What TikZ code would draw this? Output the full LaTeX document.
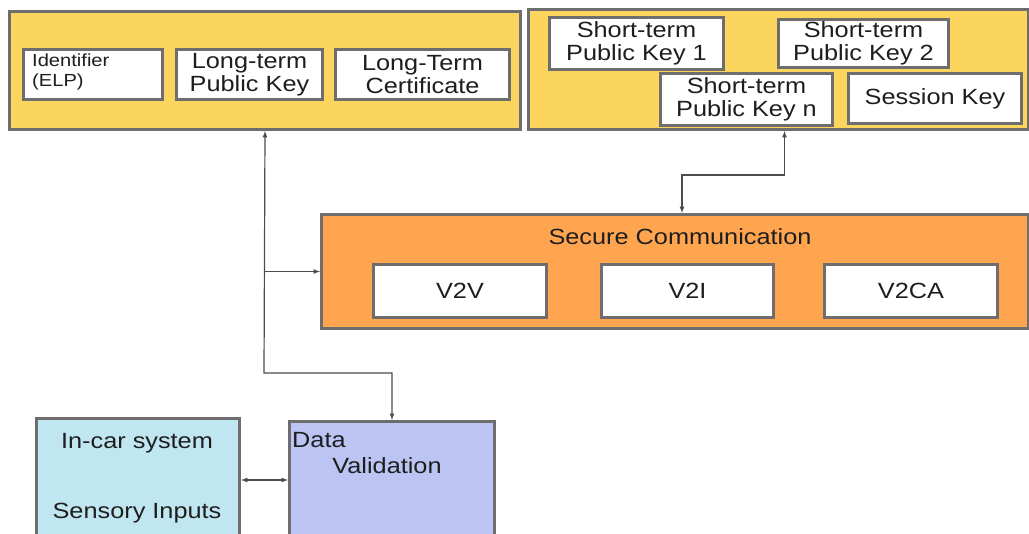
\documentclass[tikz,border=0pt]{standalone}
\usepackage{fontspec}
\setmainfont{Liberation Sans}[FakeStretch=1.15]
\usepackage{tikz}
\usepackage{xcolor}
\usetikzlibrary{arrows}

\definecolor{keyyellow}{HTML}{FCD55E}
\definecolor{comorange}{HTML}{FFA54F}
\definecolor{carcyan}{HTML}{C0E7F1}
\definecolor{vallav}{HTML}{BBC4F2}
\definecolor{rimgray}{HTML}{6E6E6E}
\definecolor{txtgray}{HTML}{1E1E1E}

\tikzset{
  panel/.style={draw=rimgray, line width=3pt, inner sep=0pt, anchor=north west},
  keybox/.style={panel, fill=white, text=txtgray, align=center,
    font=\fontsize{22}{23}\selectfont},
  lbl/.style={text=txtgray, font=\fontsize{22}{23}\selectfont, inner sep=0pt},
  conn/.style={draw=black!70, line width=1.2pt}
}

\begin{document}
\begin{tikzpicture}[x=1pt, y=-1pt]
\useasboundingbox (0,0) rectangle (1029,534);
\clip (0,0) rectangle (1029,534);

% long-term part
\node[panel, fill=keyyellow, minimum width=511pt, minimum height=118pt] (ltbox) at (8,10) {};
\node[keybox, minimum width=139pt, minimum height=50pt] (ident) at (22,48) {};
\node[lbl, anchor=north west, align=left, font=\fontsize{17.5}{20}\selectfont] (identl) at (32,54) {Identifier\\(ELP)};
\node[keybox, minimum width=146pt, minimum height=50pt] (ltpk) at (175,48) {Long-term\\Public Key};
\node[keybox, minimum width=174pt, minimum height=50pt] (ltcert) at (334,48) {Long-Term\\Certificate};

% short-term part
\node[panel, fill=keyyellow, minimum width=500pt, minimum height=120pt] (rtbox) at (527,8) {};
\node[keybox, minimum width=174pt, minimum height=52pt] (stk1) at (548,16) {Short-term\\Public Key 1};
\node[keybox, minimum width=170pt, minimum height=48pt] (stk2) at (777,18) {Short-term\\Public Key 2};
\node[keybox, minimum width=172pt, minimum height=52pt] (stkn) at (659,72) {Short-term\\Public Key n};
\node[keybox, minimum width=173pt, minimum height=50pt] (sess) at (847,72) {Session Key};

% secure communication
\node[panel, fill=comorange, minimum width=707pt, minimum height=114pt] (sc) at (320,213) {};
\node[lbl] (sctitle) at (680,237) {Secure Communication};
\node[keybox, minimum width=173pt, minimum height=53pt] (v2v) at (372,263) {V2V};
\node[keybox, minimum width=172pt, minimum height=53pt] (v2i) at (600,263) {V2I};
\node[keybox, minimum width=173pt, minimum height=53pt] (v2ca) at (823,263) {V2CA};

% in-car side
\node[panel, fill=carcyan, minimum width=203pt, minimum height=123pt] (car) at (35,417) {};
\node[lbl] (carl1) at (137,443) {In-car system};
\node[lbl] (carl2) at (137,513) {Sensory Inputs};
\node[panel, fill=vallav, minimum width=205pt, minimum height=120pt] (dv) at (288,420) {};
\node[lbl, anchor=west] (dvl1) at (292,440) {Data};
\node[lbl] (dvl2) at (387,466) {Validation};

% connectors
\coordinate (bendl) at (264,373);
\draw[conn, latex-latex] (ltbox.south) -- (bendl) -| (dv.north);
\draw[conn, -latex] (ltbox.south |- sc.west) -- (sc.west);
\draw[conn, latex-latex] ([xshift=6pt]rtbox.south) -- ++(0,44) -| ([xshift=7pt]sc.north);
\draw[conn, latex-latex] (car.east) -- (car.east -| dv.west);

\end{tikzpicture}
\end{document}
